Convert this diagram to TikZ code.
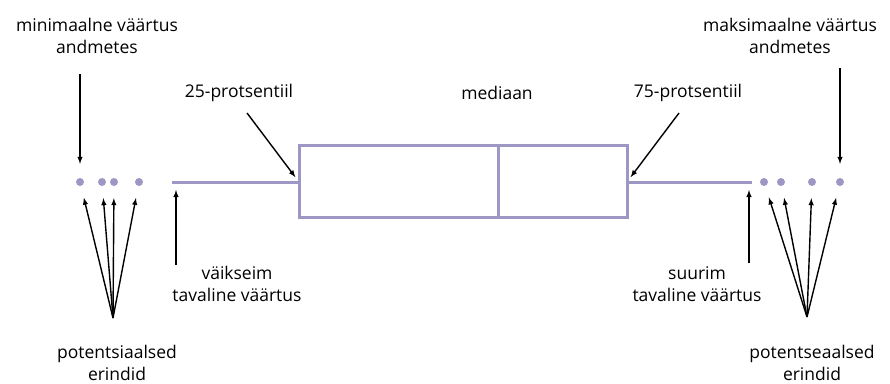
\documentclass[tikz,border=0pt]{standalone}
\usepackage{fontspec}
\setmainfont{Open Sans}
\usetikzlibrary{positioning,shapes,arrows,calc}
\definecolor{boxlila}{HTML}{9C97C4}
\tikzset{
  lbl/.style={align=center, inner sep=0pt, font=\fontsize{17.5}{22}\selectfont},
  dot/.style={circle, fill=boxlila, inner sep=0pt, minimum size=8pt},
  plotline/.style={draw=boxlila, line width=3pt},
  pointer/.style={-latex, line width=1.4pt},
}

\begin{document}
\begin{tikzpicture}[x=1pt,y=-1pt]
  \useasboundingbox (0,0) rectangle (890,383);
  % box and whiskers
  \coordinate (lo) at (172,182);
  \coordinate (q1) at (299,182);
  \coordinate (q3) at (627,182);
  \coordinate (hi) at (752,182);
  \coordinate (med) at (498,182);
  \draw[plotline] (299,145) rectangle (627,217);
  \draw[plotline] (med |- 0,145) -- (med |- 0,217);
  \draw[plotline] (lo) -- (q1);
  \draw[plotline] (q3) -- (hi);
  % outliers
  \node[dot] (o1) at (80,182) {};
  \node[dot] (o2) at (102,182) {};
  \node[dot] (o3) at (114,182) {};
  \node[dot] (o4) at (139,182) {};
  \node[dot] (u1) at (764,182) {};
  \node[dot] (u2) at (781,182) {};
  \node[dot] (u3) at (812,182) {};
  \node[dot] (u4) at (840,182) {};

  \node[lbl] (minv) at (97,36) {minimaalne väärtus\\andmetes};
  \node[lbl] (maxv) at (790,36) {maksimaalne väärtus\\andmetes};
  \node[lbl] (p25) at (239,93) {25-protsentiil};
  \node[lbl] (mediaan) at (497,93) {mediaan};
  \node[lbl] (p75) at (688,93) {75-protsentiil};
  \node[lbl] (small) at (237,284) {väikseim\\tavaline väärtus};
  \node[lbl] (large) at (697,284) {suurim\\tavaline väärtus};
  \node[lbl] (lerr) at (117,363) {potentsiaalsed\\erindid};
  \node[lbl] (rerr) at (812,363) {potentseaalsed\\erindid};

  \coordinate (t25) at (247,113);
  \coordinate (t75) at (679,113);
  \coordinate (tlo) at (176,265);
  \coordinate (thi) at (749,263);
  \coordinate (lfan) at (113,318);
  \coordinate (rfan) at (807,317);

  \draw[pointer, shorten <=38pt, shorten >=14pt] (minv.center -| o1) -- (o1);
  \draw[pointer, shorten <=32pt, shorten >=14pt] (maxv.center -| u4) -- (u4);
  \draw[pointer, shorten >=6pt] (t25) -- (q1);
  \draw[pointer, shorten >=6pt] (t75) -- (q3);
  \draw[pointer, shorten >=8pt] (tlo) -- (tlo |- lo);
  \draw[pointer, shorten >=8pt] (thi) -- (thi |- hi);
  \foreach \o in {o1,o2,o3,o4}
    \draw[pointer, shorten >=12pt] (lfan) -- (\o);
  \foreach \u in {u1,u2,u3,u4}
    \draw[pointer, shorten >=12pt] (rfan) -- (\u);
\end{tikzpicture}
\end{document}
